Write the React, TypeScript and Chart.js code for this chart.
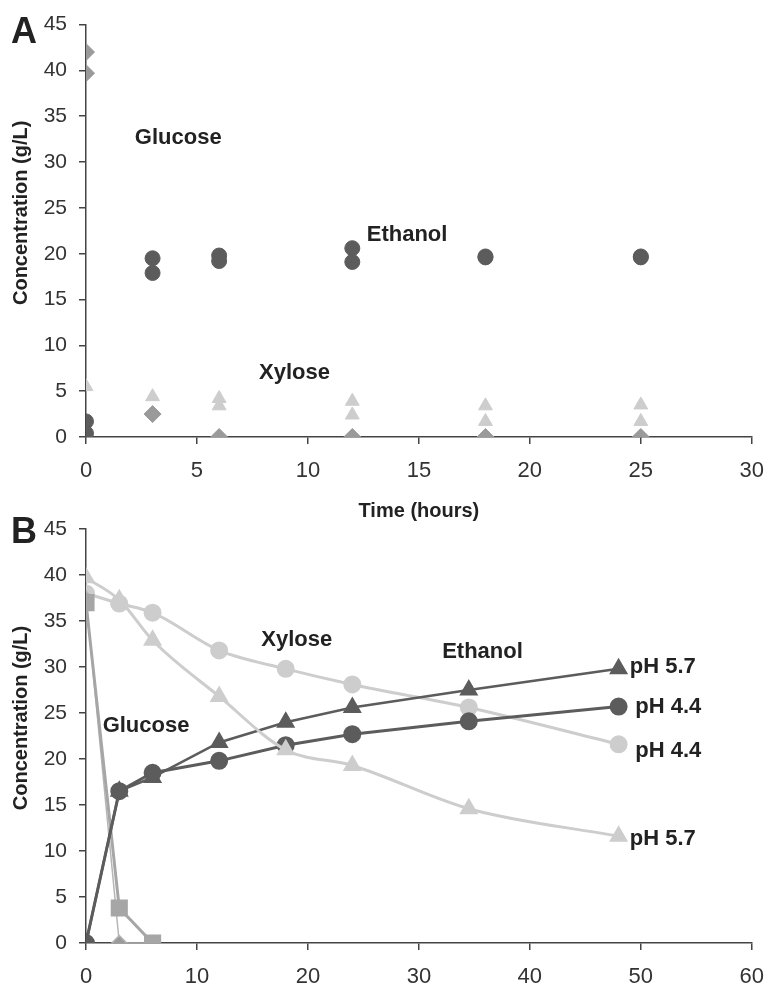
import React, { useEffect, useRef } from 'react';
import { Chart, registerables } from 'chart.js';
Chart.register(...registerables);

// ---------- Panel A data (scatter, time in hours) ----------
const glucoseATime = [0, 0, 3, 6, 12, 18, 25];
const glucoseA = [42, 39.7, 2.5, 0, 0, 0, 0];
const ethanolATime = [0, 0, 3, 3, 6, 6, 12, 12, 18, 18, 25, 25];
const ethanolA = [1.7, 0.4, 19.5, 17.9, 19.8, 19.2, 20.6, 19.1, 19.7, 19.6, 19.7, 19.6];
const xyloseATime = [0, 3, 6, 6, 12, 12, 18, 18, 25, 25];
const xyloseA = [5.5, 4.4, 4.2, 3.4, 3.9, 2.4, 3.4, 1.7, 3.5, 1.7];

const labelsA = ['Glucose', 'Ethanol', 'Xylose'];
const labelsAX = [2.2, 12.65, 7.8];
const labelsAY = [32.6, 22.0, 7.0];

// ---------- Panel B data (lines) ----------
const timesB = [0, 3, 6, 12, 18, 24, 34.5, 48];
const ethanolPH57 = [0, 16.5, 18, 21.8, 24, 25.6, 27.5, 29.8];
const ethanolPH44 = [0, 16.5, 18.5, 19.8, 21.5, 22.7, 24.1, 25.7];
const xylosePH44 = [38, 36.9, 35.9, 31.8, 29.8, 28.1, 25.6, 21.6];
const xylosePH57 = [39.7, 37.3, 32.9, 26.8, 21.0, 19.3, 14.6, 11.6];
const glucoseTimesB = [0, 3, 6];
const glucosePH57 = [37, 3.8, 0];
const glucosePH44 = [37.4, 0, 0];

const labelsB = ['Xylose', 'Glucose', 'Ethanol', 'pH 5.7', 'pH 4.4', 'pH 4.4', 'pH 5.7'];
const labelsBX = [15.8, 1.5, 32.1, 49.0, 49.5, 49.5, 49.0];
const labelsBY = [32.9, 23.6, 31.6, 30.0, 25.7, 20.9, 11.3];

const yTicks = [0, 5, 10, 15, 20, 25, 30, 35, 40, 45];

const FONT = '"Liberation Sans", Arial, sans-serif';
const DARK = '#5c5c5c';
const MID = '#9a9a9a';
const LIGHT = '#cdcdcd';
const SQUARE = '#a6a6a6';

const pts = (xs: number[], ys: number[]) => xs.map((x, i) => ({ x, y: ys[i] }));

function makeTextPlugin(id: string, letter: string, letterY: number, texts: string[], xs: number[], ys: number[]) {
  return {
    id,
    afterDatasetsDraw(chart: any) {
      const { ctx, chartArea, scales } = chart;
      const x = scales.x, y = scales.y;
      ctx.save();
      ctx.fillStyle = '#222';
      ctx.font = `bold 22px ${FONT}`;
      ctx.textAlign = 'left';
      ctx.textBaseline = 'middle';
      texts.forEach((t, i) => ctx.fillText(t, x.getPixelForValue(xs[i]), y.getPixelForValue(ys[i])));
      ctx.font = `bold 36px ${FONT}`;
      ctx.textBaseline = 'alphabetic';
      ctx.fillText(letter, 11, letterY);
      ctx.translate(21, (chartArea.top + chartArea.bottom) / 2 - 18);
      ctx.rotate(-Math.PI / 2);
      ctx.font = `bold 20px ${FONT}`;
      ctx.textAlign = 'center';
      ctx.textBaseline = 'middle';
      ctx.fillText('Concentration (g/L)', 0, 0);
      ctx.restore();
    },
  };
}

function axisCommon() {
  return {
    grid: { drawOnChartArea: false, drawTicks: true, tickLength: 7, color: '#444', lineWidth: 1.5 },
    border: { display: true, color: '#444', width: 1.5 },
  };
}

function yAxis() {
  return {
    type: 'linear',
    min: 0,
    max: 45,
    afterBuildTicks: (scale: any) => {
      scale.ticks = yTicks.map((v) => ({ value: v }));
    },
    afterFit: (scale: any) => {
      scale.width = 86;
    },
    ticks: { color: '#333', font: { family: FONT, size: 21 }, padding: 12 },
    ...axisCommon(),
  };
}

export default function App() {
  const refA = useRef<HTMLCanvasElement>(null);
  const refB = useRef<HTMLCanvasElement>(null);

  useEffect(() => {
    document.body.style.margin = '0';
    const chartA = new Chart(refA.current as HTMLCanvasElement, {
      type: 'scatter',
      data: {
        datasets: [
          {
            label: 'Ethanol',
            data: pts(ethanolATime, ethanolA),
            pointStyle: 'circle',
            pointRadius: 7.5,
            backgroundColor: DARK,
            borderColor: DARK,
            borderWidth: 1,
          },
          {
            label: 'Glucose',
            data: pts(glucoseATime, glucoseA),
            pointStyle: 'rectRot',
            pointRadius: 8.5,
            backgroundColor: MID,
            borderColor: MID,
            borderWidth: 1,
          },
          {
            label: 'Xylose',
            data: pts(xyloseATime, xyloseA),
            pointStyle: 'triangle',
            pointRadius: 8,
            backgroundColor: LIGHT,
            borderColor: LIGHT,
            borderWidth: 1,
          },
        ],
      } as any,
      options: {
        responsive: false,
        animation: false,
        layout: { padding: { left: 0, right: 14, top: 24, bottom: 0 } },
        plugins: { legend: { display: false }, tooltip: { enabled: false } },
        scales: {
          x: {
            type: 'linear',
            min: 0,
            max: 30,
            ticks: { stepSize: 5, color: '#333', font: { family: FONT, size: 22 }, padding: 14 },
            title: {
              display: true,
              text: 'Time (hours)',
              color: '#222',
              font: { family: FONT, size: 20, weight: 'bold' },
              padding: { top: 0, bottom: 7 },
            },
            afterFit: (scale: any) => {
              scale.height = 93;
            },
            ...axisCommon(),
          },
          y: yAxis(),
        } as any,
      },
      plugins: [makeTextPlugin('txtA', 'A', 43, labelsA, labelsAX, labelsAY)],
    } as any);

    const smooth = { cubicInterpolationMode: 'monotone', tension: 0.3 };
    const chartB = new Chart(refB.current as HTMLCanvasElement, {
      type: 'scatter',
      data: {
        datasets: [
          {
            label: 'Xylose pH 5.7',
            data: pts(timesB, xylosePH57),
            showLine: true,
            ...smooth,
            pointStyle: 'triangle',
            pointRadius: 8,
            backgroundColor: LIGHT,
            borderColor: LIGHT,
            borderWidth: 3,
          },
          {
            label: 'Ethanol pH 5.7',
            data: pts(timesB, ethanolPH57),
            showLine: true,
            tension: 0,
            pointStyle: 'triangle',
            pointRadius: 8.5,
            backgroundColor: DARK,
            borderColor: DARK,
            borderWidth: 2.5,
          },
          {
            label: 'Ethanol pH 4.4',
            data: pts(timesB, ethanolPH44),
            showLine: true,
            tension: 0,
            pointStyle: 'circle',
            pointRadius: 7.5,
            backgroundColor: DARK,
            borderColor: DARK,
            borderWidth: 3,
          },
          {
            label: 'Glucose pH 5.7',
            data: pts(glucoseTimesB, glucosePH57),
            showLine: true,
            tension: 0,
            pointStyle: 'rect',
            pointRadius: 10,
            backgroundColor: SQUARE,
            borderColor: SQUARE,
            borderWidth: 3,
          },
          {
            label: 'Glucose pH 4.4',
            data: pts(glucoseTimesB, glucosePH44),
            showLine: true,
            tension: 0,
            pointStyle: 'rectRot',
            pointRadius: 7.5,
            backgroundColor: MID,
            borderColor: '#b5b5b5',
            borderWidth: 1.5,
          },
          {
            label: 'Xylose pH 4.4',
            data: pts(timesB, xylosePH44),
            showLine: true,
            ...smooth,
            pointStyle: 'circle',
            pointRadius: 7.5,
            backgroundColor: LIGHT,
            borderColor: LIGHT,
            borderWidth: 3,
          },
        ],
      } as any,
      options: {
        responsive: false,
        animation: false,
        layout: { padding: { left: 0, right: 13, top: 39, bottom: 0 } },
        plugins: { legend: { display: false }, tooltip: { enabled: false } },
        scales: {
          x: {
            type: 'linear',
            min: 0,
            max: 60,
            ticks: { stepSize: 10, color: '#333', font: { family: FONT, size: 22 }, padding: 14 },
            afterFit: (scale: any) => {
              scale.height = 45;
            },
            ...axisCommon(),
          },
          y: yAxis(),
        } as any,
      },
      plugins: [makeTextPlugin('txtB', 'B', 53, labelsB, labelsBX, labelsBY)],
    } as any);

    return () => {
      chartA.destroy();
      chartB.destroy();
    };
  }, []);

  return (
    <div style={{ position: 'relative', width: 778, height: 988, background: '#fff', overflow: 'hidden' }}>
      <canvas ref={refA} width={778} height={530} style={{ position: 'absolute', left: 0, top: 0 }} />
      <canvas ref={refB} width={778} height={498} style={{ position: 'absolute', left: 0, top: 490 }} />
    </div>
  );
}
